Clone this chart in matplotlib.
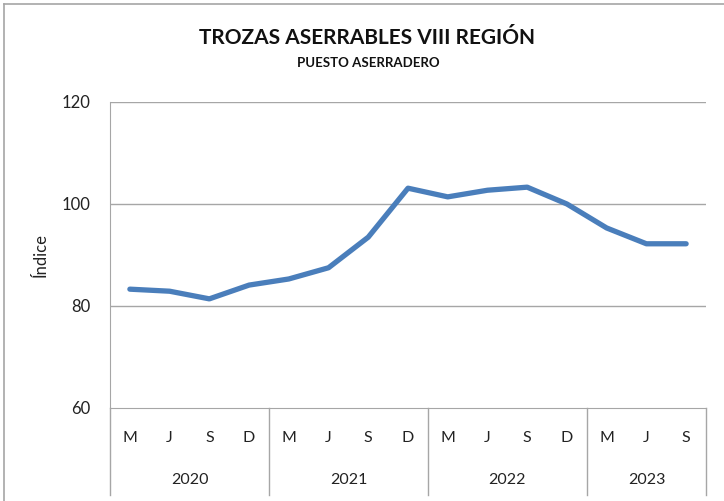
import matplotlib.pyplot as plt
from matplotlib.lines import Line2D
import numpy as np

# Datos
years = ['2020', '2021', '2022', '2023']
months = ['M', 'J', 'S', 'D', 'M', 'J', 'S', 'D', 'M', 'J', 'S', 'D', 'M', 'J', 'S']
indice = [83.3, 82.9, 81.4, 84.1, 85.3, 87.5, 93.5, 103.1,
          101.4, 102.7, 103.3, 100.0, 95.3, 92.2, 92.2]
year_sizes = [4, 4, 4, 3]

plt.rcParams['font.family'] = ['Lato', 'DejaVu Sans']

fig = plt.figure(figsize=(7.24, 5.01), dpi=100)
ax = fig.add_axes([110 / 724, 93 / 501, 596 / 724, 306 / 501])

x = np.arange(len(indice))
ax.plot(x, indice, color='#4A7EBB', linewidth=3.8, solid_capstyle='round',
        solid_joinstyle='round', zorder=3)

ax.set_xlim(-0.5, len(indice) - 0.5)
ax.set_ylim(60, 120)
ax.set_yticks([60, 80, 100, 120])
ax.tick_params(axis='y', length=0, labelsize=12, pad=14, colors='#222222')
ax.set_xticks([])
for yv in [80, 100, 120]:
    ax.axhline(yv, color='#A6A6A6', linewidth=1.0, zorder=1)

for s in ['top', 'right']:
    ax.spines[s].set_visible(False)
ax.spines['left'].set_color('#A6A6A6')
ax.spines['bottom'].set_color('#A6A6A6')

ax.set_ylabel('Índice', fontsize=12, color='#222222', labelpad=9)

# etiquetas de categoría
trans = ax.get_xaxis_transform()
for i, m in enumerate(months):
    ax.text(i, -0.098, m, transform=trans, ha='center', va='center',
            fontsize=11.5, color='#222222')

start = 0
bounds = [-0.5]
for yr, n in zip(years, year_sizes):
    ax.text(start + (n - 1) / 2, -0.236, yr, transform=trans, ha='center',
            va='center', fontsize=11.5, color='#222222')
    start += n
    bounds.append(start - 0.5)
for b in bounds:
    ax.plot([b, b], [0, -0.285], transform=trans, color='#A6A6A6',
            linewidth=1.0, clip_on=False)

# títulos
fig.text(367 / 724, 1 - 38 / 501, 'TROZAS ASERRABLES VIII REGIÓN', ha='center',
         va='center', fontsize=15, fontweight='bold', color='#111111')
fig.text(368 / 724, 1 - 63 / 501, 'PUESTO ASERRADERO', ha='center',
         va='center', fontsize=9.5, fontweight='bold', color='#111111')

# marco
fig.add_artist(Line2D([3.5 / 724, 3.5 / 724], [0, 1 - 3.5 / 501],
                      transform=fig.transFigure, color='#A6A6A6', linewidth=1.2))
fig.add_artist(Line2D([3.5 / 724, 1], [1 - 3.5 / 501, 1 - 3.5 / 501],
                      transform=fig.transFigure, color='#A6A6A6', linewidth=1.2))

fig.savefig('out.png', dpi=100)
